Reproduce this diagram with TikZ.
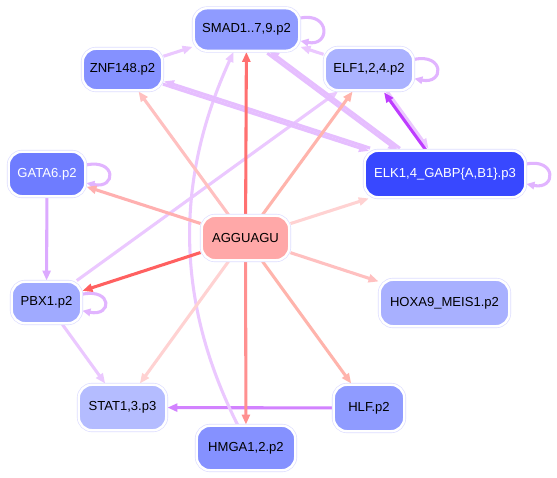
\documentclass[tikz,border=0pt]{standalone}
\usepackage{fontspec}
\setmainfont{Liberation Sans}
\usetikzlibrary{arrows.meta,backgrounds}
\definecolor{cSmad}{RGB}{143,155,255}
\definecolor{cZnf}{RGB}{133,145,255}
\definecolor{cElf}{RGB}{170,178,255}
\definecolor{cGata}{RGB}{110,124,255}
\definecolor{cPbx}{RGB}{160,170,255}
\definecolor{cElk}{RGB}{56,72,255}
\definecolor{cAgg}{RGB}{255,168,168}
\definecolor{cHox}{RGB}{168,176,255}
\definecolor{cStat}{RGB}{180,188,255}
\definecolor{cHmga}{RGB}{133,145,255}
\definecolor{cHlf}{RGB}{143,155,255}
\definecolor{ring}{RGB}{222,222,255}
\definecolor{rA}{RGB}{255,112,112}
\definecolor{rB}{RGB}{255,96,96}
\definecolor{rC}{RGB}{255,144,144}
\definecolor{rD}{RGB}{255,180,172}
\definecolor{rE}{RGB}{255,192,192}
\definecolor{rF}{RGB}{255,210,210}
\definecolor{rG}{RGB}{255,176,176}
\definecolor{pL}{RGB}{235,200,255}
\definecolor{pM}{RGB}{220,170,255}
\definecolor{pLoop}{RGB}{225,180,255}
\definecolor{pS}{RGB}{190,60,255}
\definecolor{pH}{RGB}{210,130,255}
\definecolor{pT}{RGB}{230,190,255}
\tikzset{
  box/.style={rounded corners=10pt, inner sep=0pt, draw=white, line width=1.8pt,
    preaction={draw=ring, line width=2.8pt},
    font=\fontsize{9.8pt}{11pt}\selectfont},
  e/.style={line width=2.3pt, -{Triangle[length=7.5pt,width=6pt]}},
  loopedge/.style={line width=2.3pt, pLoop, -{Triangle[length=6pt,width=5.5pt]}}
}
\begin{document}
\begin{tikzpicture}[x=0.75pt,y=0.75pt]
\useasboundingbox (0,0) rectangle (557,478);
% nodes (x, 478-y)
\node[box, fill=cSmad, minimum width=105.5*0.75pt, minimum height=42.5*0.75pt] (smad) at (246.5,448.5) {SMAD1..7,9.p2};
\node[box, fill=cZnf, minimum width=79.5*0.75pt, minimum height=41.5*0.75pt] (znf) at (122.5,408.5) {ZNF148.p2};
\node[box, fill=cElf, minimum width=88.5*0.75pt, minimum height=42.5*0.75pt] (elf) at (369,409) {ELF1,2,4.p2};
\node[box, fill=cGata, text=white, minimum width=76.5*0.75pt, minimum height=44.5*0.75pt] (gata) at (47,304) {GATA6.p2};
\node[box, fill=cElk, text=white, minimum width=160.5*0.75pt, minimum height=46.5*0.75pt] (elk) at (445,304) {ELK1,4\_GABP\{A,B1\}.p3};
\node[box, fill=cAgg, minimum width=87.5*0.75pt, minimum height=44.5*0.75pt] (agg) at (245.5,240) {AGGUAGU};
\node[box, fill=cPbx, minimum width=69.5*0.75pt, minimum height=41.5*0.75pt] (pbx) at (46.5,175.5) {PBX1.p2};
\node[box, fill=cHox, minimum width=129.5*0.75pt, minimum height=46.5*0.75pt] (hox) at (444.5,175) {HOXA9\_MEIS1.p2};
\node[box, fill=cStat, minimum width=87.5*0.75pt, minimum height=45.5*0.75pt] (stat) at (122.5,70.5) {STAT1,3.p3};
\node[box, fill=cHmga, minimum width=98.5*0.75pt, minimum height=44.5*0.75pt] (hmga) at (246,30) {HMGA1,2.p2};
\node[box, fill=cHlf, minimum width=70.5*0.75pt, minimum height=46.5*0.75pt] (hlf) at (369,70) {HLF.p2};
\begin{scope}[on background layer]
\fill[white] (0,0) rectangle (557,478);
% purple edges
\draw[e, pL] (znf) -- (smad);
\draw[e, pL] (elf) -- (smad);
\draw[e, pM] (gata) -- (pbx);
\draw[e, pL] (pbx) -- (elf);
\draw[e, pL] (pbx) -- (stat);
\draw[e, pH] (hlf) -- (stat);
\draw[e, pL] (hmga.110) .. controls (175,178) and (175,298) .. (smad.-120);
\draw[e, pT, transform canvas={shift={(0.5,1.4)}}] (elk) -- (znf);
\draw[e, pT, transform canvas={shift={(-0.5,-1.4)}}] (znf) -- (elk);
\draw[e, pT, transform canvas={shift={(0.9,1.2)}}] (elk.152) -- (smad.-46);
\draw[e, pT, transform canvas={shift={(-0.9,-1.2)}}] (smad.-46) -- (elk.152);
\draw[e, pL, transform canvas={shift={(1.2,0.9)}}] (elf) -- (elk);
\draw[e, pS, transform canvas={shift={(-1.2,-0.9)}}] (elk) -- (elf);
% loops
\draw[loopedge] (smad.12) .. controls +(30,6) and +(30,-6) .. (smad.-12);
\draw[loopedge] (elf.12) .. controls +(30,6) and +(30,-6) .. (elf.-12);
\draw[loopedge] (elk.7) .. controls +(30,6) and +(30,-6) .. (elk.-7);
\draw[loopedge] (gata.13) .. controls +(30,6) and +(30,-6) .. (gata.-13);
\draw[loopedge] (pbx.13) .. controls +(30,6) and +(30,-6) .. (pbx.-13);
% red edges
\draw[e, rA] (agg) -- (smad);
\draw[e, rE] (agg) -- (znf);
\draw[e, rD] (agg) -- (elf);
\draw[e, rG] (agg) -- (gata);
\draw[e, rF] (agg) -- (elk);
\draw[e, rB] (agg) -- (pbx);
\draw[e, rE] (agg) -- (hox);
\draw[e, rF] (agg) -- (stat);
\draw[e, rC] (agg) -- (hmga);
\draw[e, rD] (agg) -- (hlf);
\end{scope}
\end{tikzpicture}
\end{document}
